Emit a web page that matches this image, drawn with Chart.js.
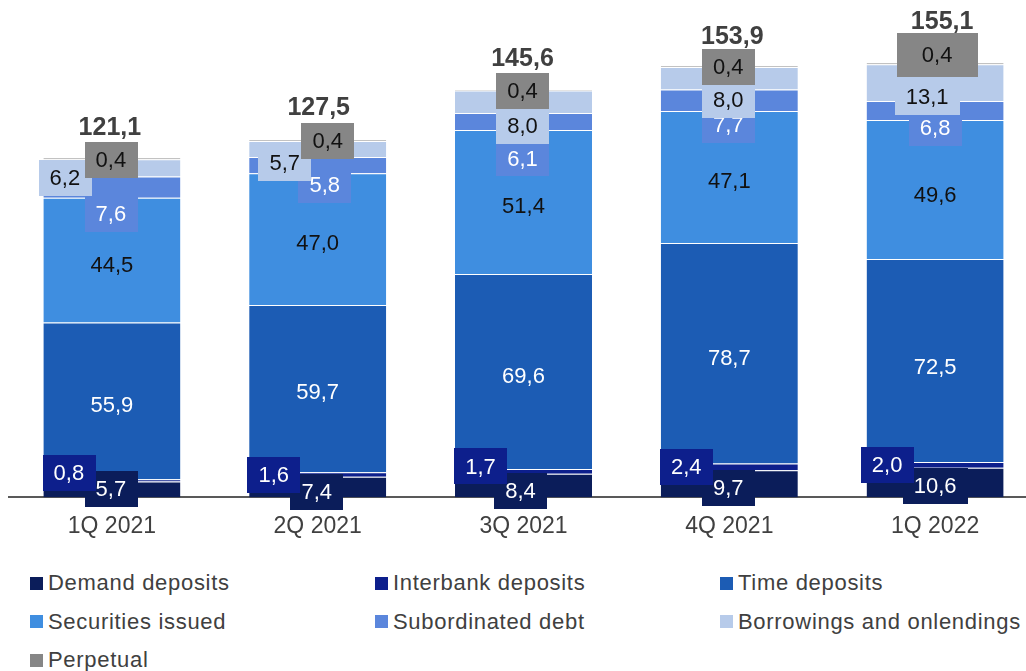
<!DOCTYPE html>
<html>
<head>
<meta charset="utf-8">
<script src="https://cdn.jsdelivr.net/npm/chart.js@4.4.1/dist/chart.umd.min.js"></script>
<style>
  html, body { margin: 0; padding: 0; background: #fff; overflow: hidden; }
  #wrap { position: relative; width: 1040px; height: 555px; }
  #legend {
    position: absolute; left: 30px; top: 564px;
    display: grid; grid-template-columns: 345px 345px 345px;
    font: 22px "Liberation Sans", Arial, sans-serif; letter-spacing: 0.7px; color: #404040;
  }
  .item { display: flex; align-items: center; height: 38.5px; white-space: nowrap; }
  .sw { width: 13px; height: 13px; margin-right: 5px; flex: none; }
</style>
</head>
<body>
<div id="wrap"><canvas id="funding" width="1040" height="555"></canvas></div>
<div id="legend"></div>
<script>
const quarters = ['1Q 2021', '2Q 2021', '3Q 2021', '4Q 2021', '1Q 2022'];
const demandDeposits = [5.7, 7.4, 8.4, 9.7, 10.6];
const interbankDeposits = [0.8, 1.6, 1.7, 2.4, 2.0];
const timeDeposits = [55.9, 59.7, 69.6, 78.7, 72.5];
const securitiesIssued = [44.5, 47.0, 51.4, 47.1, 49.6];
const subordinatedDebt = [7.6, 5.8, 6.1, 7.7, 6.8];
const borrowings = [6.2, 5.7, 8.0, 8.0, 13.1];
const perpetual = [0.4, 0.4, 0.4, 0.4, 0.4];
const totals = [121.1, 127.5, 145.6, 153.9, 155.1];

const FONT = '"Liberation Sans", Arial, sans-serif';

// series: name, values, fill, label text colour, label nudges [dx, dy] per quarter
const series = [
  { name: 'Demand deposits', data: demandDeposits, color: '#0b1d5a', text: '#fff',
    nudge: [[-1, 0], [-1, 5], [-3, 5], [-1, 4], [0, 3]] },
  { name: 'Interbank deposits', data: interbankDeposits, color: '#0d1f8c', text: '#fff',
    nudge: [[-43, -7], [-44, 1], [-43, -5], [-43, 0], [-48, 0]] },
  { name: 'Time deposits', data: timeDeposits, color: '#1c5cb4', text: '#fff',
    nudge: [[0, 4], [0, 3], [0, 4], [0, 5], [0, 6]] },
  { name: 'Securities issued', data: securitiesIssued, color: '#3f8ee0', text: '#111',
    nudge: [[0, 5], [0, 4], [0, 4], [0, 4], [0, 6]] },
  { name: 'Subordinated debt', data: subordinatedDebt, color: '#5b86dc', text: '#fff',
    nudge: [[-1, 27], [7, 20], [-1, 37], [-1, 25], [0, 18]] },
  { name: 'Borrowings and onlendings', data: borrowings, color: '#b7cbea', text: '#111',
    nudge: [[-47, 10], [-33, 14], [-1, 24], [-1, 22], [-8, 14]] },
  { name: 'Perpetual', data: perpetual, color: '#868686', text: '#111',
    nudge: [[-1, 1], [10, 1], [-1, 1], [-1, 1], [2, -9]], bigBox: [4] }
];

// totals sit above the stack top
const totalNudge = [[-2, -30], [1, -32], [-1, -30], [3, -29], [7, -41]];

const fmt = v => v.toFixed(1).replace('.', ',');

const segmentLabels = {
  id: 'segmentLabels',
  afterDatasetsDraw(chart) {
    const ctx = chart.ctx;
    ctx.save();
    ctx.textAlign = 'center';
    ctx.textBaseline = 'middle';
    series.forEach((s, i) => {
      const meta = chart.getDatasetMeta(i);
      meta.data.forEach((bar, j) => {
        const txt = fmt(s.data[j]);
        ctx.font = '22px ' + FONT;
        const w = ctx.measureText(txt).width;
        const big = s.bigBox && s.bigBox.includes(j);
        const bw = w + (big ? 50 : 22);
        const bh = big ? 44 : 36;
        const cx = bar.x + s.nudge[j][0];
        const cy = (bar.y + bar.base) / 2 + s.nudge[j][1];
        ctx.fillStyle = s.color;
        ctx.fillRect(Math.round(cx - bw / 2), Math.round(cy - bh / 2), Math.round(bw), bh);
        ctx.fillStyle = s.text;
        ctx.fillText(txt, cx, cy + 1);
      });
    });
    const top = chart.getDatasetMeta(series.length - 1);
    ctx.font = 'bold 25px ' + FONT;
    ctx.fillStyle = '#404040';
    top.data.forEach((bar, j) => {
      ctx.fillText(fmt(totals[j]), bar.x + totalNudge[j][0], bar.y + totalNudge[j][1]);
    });
    ctx.restore();
  }
};

new Chart(document.getElementById('funding'), {
  type: 'bar',
  data: {
    labels: quarters,
    datasets: series.map(s => ({
      label: s.name,
      data: s.data,
      backgroundColor: s.color,
      borderColor: 'rgba(255,255,255,0.3)',
      borderWidth: { top: 1 },
      borderSkipped: 'start',
      barPercentage: 0.666,
      categoryPercentage: 1
    }))
  },
  options: {
    responsive: false,
    animation: false,
    layout: { padding: { left: 9, right: 2, top: 0, bottom: 0 } },
    plugins: { legend: { display: false }, tooltip: { enabled: false } },
    scales: {
      x: {
        stacked: true,
        grid: { display: false, drawTicks: false },
        border: { display: true, color: '#595959', width: 2 },
        ticks: { color: '#404040', padding: 15, font: { family: FONT, size: 23 } }
      },
      y: { stacked: true, display: false, min: 0, max: 177.5 }
    }
  },
  plugins: [segmentLabels]
});

// legend in three columns
const legend = document.getElementById('legend');
series.forEach(s => {
  const item = document.createElement('div');
  item.className = 'item';
  item.innerHTML = '<span class="sw" style="background:' + s.color + '"></span><span>' + s.name + '</span>';
  legend.appendChild(item);
});
</script>
</body>
</html>
